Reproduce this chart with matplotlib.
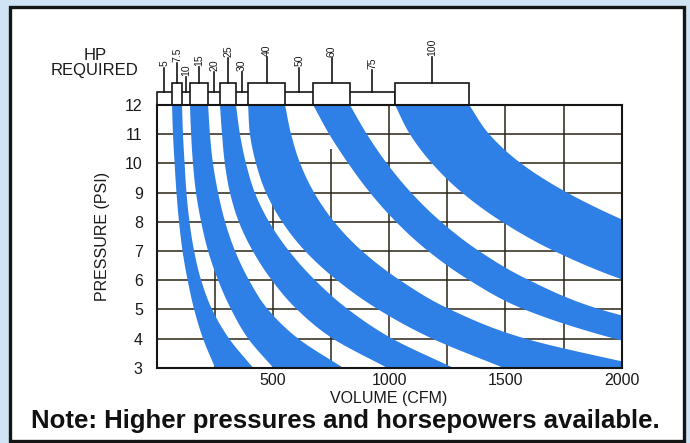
import numpy as np
import matplotlib.pyplot as plt
from matplotlib.patches import Rectangle

plt.rcParams['font.family'] = ['Liberation Sans', 'DejaVu Sans']

# pressure levels (PSI) at which band edges were read
psi = [12, 11, 10, 9, 8, 7, 6, 5, 4, 3]

# each band: left / right edge in CFM at the pressure levels above
band_hp = ['7.5', '15', '25', '40', '60', '100']
band_left = [
    [66, 70, 77, 85, 96, 111, 133, 161, 199, 251],
    [143, 148, 156, 169, 191, 221, 264, 320, 393, 501],
    [272, 281, 293, 315, 353, 413, 495, 603, 757, 990],
    [393, 401, 427, 470, 539, 638, 775, 952, 1184, 1490],
    [673, 742, 824, 917, 1029, 1167, 1344, 1580, 1967, 2508],
    [1025, 1089, 1184, 1313, 1485, 1709, 2010, 2423],
]
band_right = [
    [109, 113, 120, 128, 141, 161, 191, 238, 311, 414],
    [221, 229, 242, 264, 294, 337, 397, 478, 608, 801],
    [341, 358, 384, 422, 483, 569, 681, 823, 1012, 1274],
    [552, 578, 617, 677, 763, 883, 1046, 1261, 1584, 2122],
    [831, 904, 990, 1094, 1223, 1386, 1601, 1907, 2423, 3000],
    [1344, 1430, 1567, 1765, 2023, 2341, 2728, 3200],
]
gap_hp = ['5', '10', '20', '30', '50', '75']

x_ticks = [500, 1000, 1500, 2000]
y_ticks = list(range(3, 13))
vgrid_x = [250, 500, 750, 1000, 1250, 1500, 1750]
vgrid_top = [6.6, 9.4, 10.5, 12, 9.5, 12, 12]

BLUE = '#2e7fe6'
INK = '#151515'
W, H = 690, 443


def fx(px):
    return px / W


def fy(py):
    return 1 - py / H


def smooth(xs, ys, n=16):
    # Catmull-Rom through the read points, just for drawing
    pts = np.column_stack([xs, ys]).astype(float)
    pts = np.vstack([2 * pts[0] - pts[1], pts, 2 * pts[-1] - pts[-2]])
    out = []
    t = np.linspace(0, 1, n, endpoint=False)[:, None]
    for i in range(1, len(pts) - 2):
        p0, p1, p2, p3 = pts[i - 1:i + 3]
        out.append(0.5 * (2 * p1 + (-p0 + p2) * t + (2 * p0 - 5 * p1 + 4 * p2 - p3) * t ** 2
                          + (-p0 + 3 * p1 - 3 * p2 + p3) * t ** 3))
    out.append(pts[-2][None])
    return np.vstack(out)


fig = plt.figure(figsize=(6.9, 4.43), dpi=100)
fig.patch.set_facecolor('#cfe3f4')
fig.patches.append(Rectangle((fx(10), fy(441)), fx(684) - fx(10), fy(7) - fy(441),
                             transform=fig.transFigure, facecolor='white',
                             edgecolor=INK, lw=2.4, zorder=-5))

ax = fig.add_axes([fx(156.7), fy(367.7), fx(621.7) - fx(156.7), fy(105) - fy(367.7)])
ax.set_xlim(0, 2000)
ax.set_ylim(3, 12)
ax.set_facecolor('white')

# grid
for p in y_ticks[1:-1]:
    ax.axhline(p, color='#2a2418', lw=1.1, zorder=1)
ax.vlines(vgrid_x, 3, vgrid_top, color='#2a2418', lw=1.1, zorder=1)

# bands
for L, R in zip(band_left, band_right):
    p = psi[:len(L)]
    left = smooth(L, p)
    right = smooth(R, p)
    poly = np.vstack([left, right[::-1]])
    ax.fill(poly[:, 0], poly[:, 1], color=BLUE, lw=0, zorder=2)

for s in ax.spines.values():
    s.set_color(INK)
    s.set_linewidth(1.5)
    s.set_zorder(4)

ax.set_xticks(x_ticks)
ax.set_yticks(y_ticks)
ax.tick_params(length=0, labelsize=11.5, colors='#1a1a1a')
ax.tick_params(axis='y', pad=10)
ax.tick_params(axis='x', pad=4)

# HP required header
strip_top = 12.456
box_top = 12.764
ax.add_patch(Rectangle((0, 12), band_left[-1][0], strip_top - 12, facecolor='white',
                       edgecolor=INK, lw=1.2, clip_on=False, zorder=3))
for L, R in zip(band_left, band_right):
    ax.add_patch(Rectangle((L[0], 12), R[0] - L[0], box_top - 12, facecolor='white',
                           edgecolor=INK, lw=1.2, clip_on=False, zorder=3))

labels, xs, bases = [], [], []
prev = 0
for hp_gap, hp_band, L, R in zip(gap_hp, band_hp, band_left, band_right):
    labels += [hp_gap, hp_band]
    xs += [(prev + L[0]) / 2, (L[0] + R[0]) / 2]
    bases += [strip_top, box_top]
    prev = R[0]
line_top = [13.27, 13.44, 12.96, 13.30, 13.13, 13.61, 13.13, 13.64, 13.27, 13.61, 13.20, 13.64]
for lab, x, b, t in zip(labels, xs, bases, line_top):
    ax.plot([x, x], [b, t], color=INK, lw=1.2, clip_on=False, zorder=3)
    ax.text(x, t + 0.05, lab, rotation=90, ha='center', va='bottom', fontsize=7.5,
            color='#1a1a1a', clip_on=False)

fig.text(fx(95), fy(55), 'HP', ha='center', va='center', fontsize=12, color='#1a1a1a')
fig.text(fx(94), fy(70), 'REQUIRED', ha='center', va='center', fontsize=12, color='#1a1a1a')
fig.text(fx(103), fy(236), 'PRESSURE (PSI)', rotation=90, ha='center', va='center',
         fontsize=11.5, color='#1a1a1a')
fig.text(fx(389), fy(398), 'VOLUME (CFM)', ha='center', va='center', fontsize=11.5,
         color='#1a1a1a')
fig.text(fx(345), fy(421), 'Note: Higher pressures and horsepowers available.',
         ha='center', va='center', fontsize=18.5, fontweight='bold', color='#111111')

fig.savefig('out.png', dpi=100, facecolor=fig.get_facecolor())
